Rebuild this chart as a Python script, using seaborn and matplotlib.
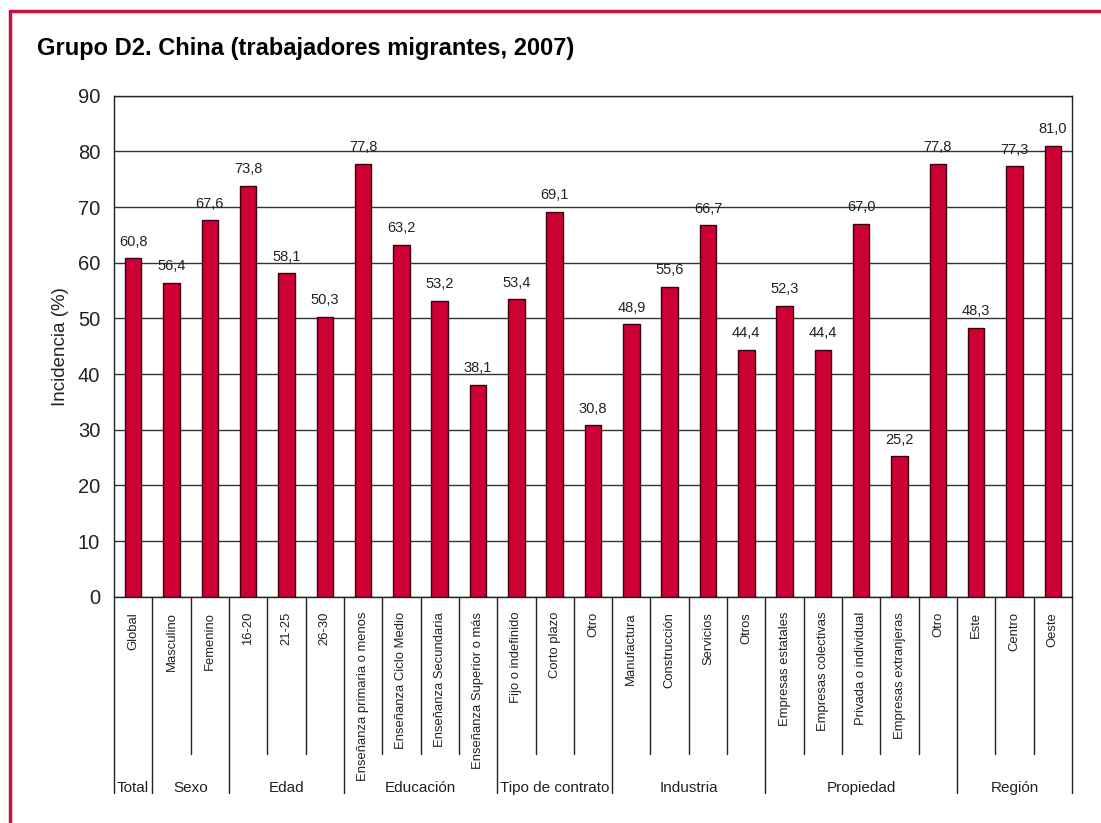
import matplotlib
matplotlib.use('Agg')
import matplotlib.pyplot as plt
import seaborn as sns
import pandas as pd
from matplotlib.lines import Line2D
from matplotlib.transforms import blended_transform_factory

groups = ["Total", "Sexo", "Edad", "Educación", "Tipo de contrato", "Industria", "Propiedad", "Región"]
group_sizes = [1, 2, 3, 4, 3, 4, 5, 3]
categories = ["Global",
              "Masculino", "Femenino",
              "16-20", "21-25", "26-30",
              "Enseñanza primaria o menos", "Enseñanza Ciclo Medio", "Enseñanza Secundaria", "Enseñanza Superior o más",
              "Fijo o indefinido", "Corto plazo", "Otro",
              "Manufactura", "Construcción", "Servicios", "Otros",
              "Empresas estatales", "Empresas colectivas", "Privada o individual", "Empresas extranjeras", "Otro",
              "Este", "Centro", "Oeste"]
values = [60.8,
          56.4, 67.6,
          73.8, 58.1, 50.3,
          77.8, 63.2, 53.2, 38.1,
          53.4, 69.1, 30.8,
          48.9, 55.6, 66.7, 44.4,
          52.3, 44.4, 67.0, 25.2, 77.8,
          48.3, 77.3, 81.0]
yticks = [0, 10, 20, 30, 40, 50, 60, 70, 80, 90]

sns.set_theme(style='white')
FAM = ['Liberation Sans Narrow', 'Liberation Sans', 'DejaVu Sans']
plt.rcParams['font.family'] = FAM

W, H = 1101, 823
fig = plt.figure(figsize=(W / 100, H / 100), dpi=100)
fig.patch.set_facecolor('white')

ax = fig.add_axes([114 / W, 1 - 596.7 / H, (1072 - 114) / W, 501 / H])
n = len(categories)
df = pd.DataFrame({'key': [str(i) for i in range(n)], 'val': values})
sns.barplot(data=df, x='key', y='val', order=df['key'].tolist(), color='#CC0033',
            saturation=1, width=0.43, edgecolor='#3a0010', linewidth=1, ax=ax)

ax.set_xlim(-0.5, n - 0.5)
ax.set_ylim(0, 90)
ax.set_yticks(yticks)
ax.set_yticklabels([str(t) for t in yticks], fontsize=14.5, color='#222222')
ax.yaxis.grid(True, color='#333333', linewidth=1)
ax.set_axisbelow(True)
for s in ax.spines.values():
    s.set_visible(True)
    s.set_color('#222222')
    s.set_linewidth(1)
ax.tick_params(axis='y', length=0, pad=10)
ax.tick_params(axis='x', length=0, pad=11)
ax.set_xticks(range(n))
ax.set_xticklabels(categories, rotation=90, fontsize=9.4, color='#222222')
ax.set_xlabel('')
ax.set_ylabel('Incidencia (%)', fontsize=13.5, color='#222222', labelpad=6)

ax.bar_label(ax.containers[0], labels=[f"{v:.1f}".replace('.', ',') for v in values],
             padding=7, fontsize=10.5, color='#222222')

trans = blended_transform_factory(ax.transData, ax.transAxes)
bounds = [0]
for g in group_sizes:
    bounds.append(bounds[-1] + g)
for b in range(n + 1):
    long = b in bounds
    ax.plot([b - 0.5, b - 0.5], [0, -0.392 if long else -0.314], transform=trans,
            color='#222222', lw=1, clip_on=False)
for gi, g in enumerate(groups):
    c = (bounds[gi] + bounds[gi + 1] - 1) / 2
    ax.text(c, -0.381, g, transform=trans, ha='center', va='center', fontsize=11, color='#222222')

fig.text(37 / W, 1 - 48 / H, "Grupo D2. China (trabajadores migrantes, 2007)",
         fontsize=17, fontweight='bold', ha='left', va='center', color='black')

red = '#C8103E'
fig.add_artist(Line2D([10 / W, 1], [1 - 11 / H, 1 - 11 / H], color=red, lw=2.5, transform=fig.transFigure))
fig.add_artist(Line2D([10 / W, 10 / W], [0, 1 - 11 / H], color=red, lw=2.5, transform=fig.transFigure))

fig.savefig('out.png', dpi=100, facecolor='white')
